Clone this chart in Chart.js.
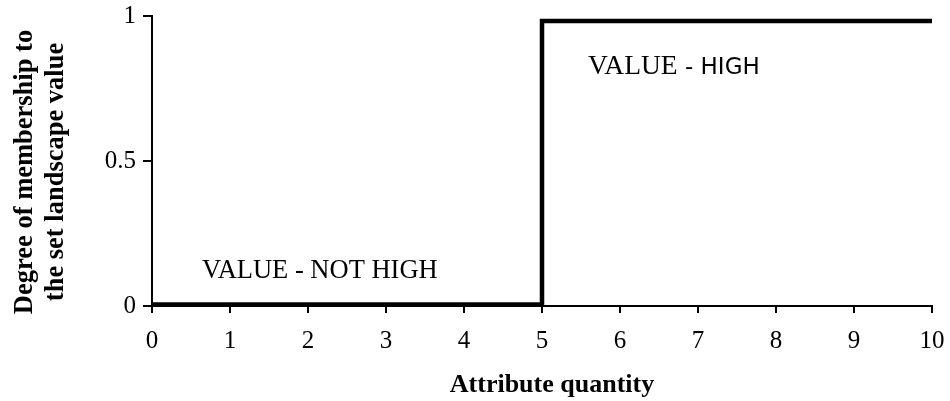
<!DOCTYPE html>
<html>
<head>
<meta charset="utf-8">
<script src="https://cdn.jsdelivr.net/npm/chart.js@4.4.1/dist/chart.umd.min.js"></script>
<style>
  html, body { margin: 0; padding: 0; background: #fff; }
  #wrap { width: 950px; height: 401px; }
</style>
</head>
<body>
<div id="wrap"><canvas id="c" width="950" height="401"></canvas></div>
<script>
// Crisp membership function: attribute quantity vs. degree of membership
const attributeQuantity = [0, 5, 5, 10];
const membershipDegree = [0.005, 0.005, 0.983, 0.983];
const xTickValues = [0, 1, 2, 3, 4, 5, 6, 7, 8, 9, 10];
const yTickValues = [0, 0.5, 1];
const xTitle = 'Attribute quantity';
const yTitleLines = ['Degree of membership to', 'the set landscape value'];
const serif = '"Liberation Serif", "Times New Roman", serif';
const sans = '"DejaVu Sans", Verdana, sans-serif';
const regionLabels = [
  { x: 0.64, y: 0.097, parts: [{ text: 'VALUE - NOT HIGH', font: '26.5px ' + serif }] },
  { x: 5.59, y: 0.799, parts: [
      { text: 'VALUE', font: '27.5px ' + serif },
      { text: ' - HIGH', font: '23px ' + sans }
  ] }
];

const points = attributeQuantity.map((x, i) => ({ x, y: membershipDegree[i] }));

// Text labels placed at data coordinates inside the plot
const regionLabelPlugin = {
  id: 'regionLabels',
  afterDatasetsDraw(chart) {
    const { ctx, scales } = chart;
    ctx.save();
    ctx.fillStyle = '#000';
    ctx.textBaseline = 'alphabetic';
    ctx.textAlign = 'left';
    regionLabels.forEach(lbl => {
      let px = scales.x.getPixelForValue(lbl.x);
      const py = scales.y.getPixelForValue(lbl.y);
      lbl.parts.forEach(p => {
        ctx.font = p.font;
        ctx.fillText(p.text, px, py);
        px += ctx.measureText(p.text).width;
      });
    });
    ctx.restore();
  }
};

// Axis titles: bold two-line rotated title on the left, single line below
const axisTitlePlugin = {
  id: 'axisTitles',
  afterDraw(chart) {
    const { ctx } = chart;
    ctx.save();
    ctx.fillStyle = '#000';
    ctx.textAlign = 'center';
    ctx.textBaseline = 'middle';
    ctx.font = 'bold 26px ' + serif;
    ctx.fillText(xTitle, 552, 385);
    ctx.font = 'bold 26.5px ' + serif;
    ctx.translate(0, 172);
    ctx.rotate(-Math.PI / 2);
    const xs = [25, 56];
    yTitleLines.forEach((t, i) => ctx.fillText(t, 0, xs[i]));
    ctx.restore();
  }
};

new Chart(document.getElementById('c'), {
  type: 'line',
  data: {
    datasets: [{
      data: points,
      borderColor: '#000',
      borderWidth: 4.5,
      pointRadius: 0,
      tension: 0,
      fill: false,
      borderCapStyle: 'butt',
      borderJoinStyle: 'miter'
    }]
  },
  options: {
    responsive: false,
    animation: false,
    layout: { padding: { top: 16, right: 18, left: 0, bottom: 0 } },
    plugins: { legend: { display: false }, tooltip: { enabled: false } },
    scales: {
      x: {
        type: 'linear',
        min: 0, max: 10,
        afterBuildTicks: s => { s.ticks = xTickValues.map(v => ({ value: v })); },
        afterFit: s => { s.height = 95; s.paddingLeft = 0; s.paddingRight = 0; },
        grid: { display: true, drawOnChartArea: false, drawTicks: true, tickLength: 7, color: '#000', lineWidth: 2 },
        border: { display: true, color: '#000', width: 2 },
        ticks: { color: '#000', font: { family: serif, size: 25 }, padding: 13, maxRotation: 0, callback: v => String(v) },
        title: { display: false }
      },
      y: {
        type: 'linear',
        min: 0, max: 1,
        afterBuildTicks: s => { s.ticks = yTickValues.map(v => ({ value: v })); },
        afterFit: s => { s.width = 152; s.paddingTop = 0; s.paddingBottom = 0; },
        grid: { display: true, drawOnChartArea: false, drawTicks: true, tickLength: 9, color: '#000', lineWidth: 2 },
        border: { display: true, color: '#000', width: 2 },
        ticks: { color: '#000', font: { family: serif, size: 25 }, padding: 7, callback: v => String(v) },
        title: { display: false }
      }
    }
  },
  plugins: [regionLabelPlugin, axisTitlePlugin]
});
</script>
</body>
</html>
